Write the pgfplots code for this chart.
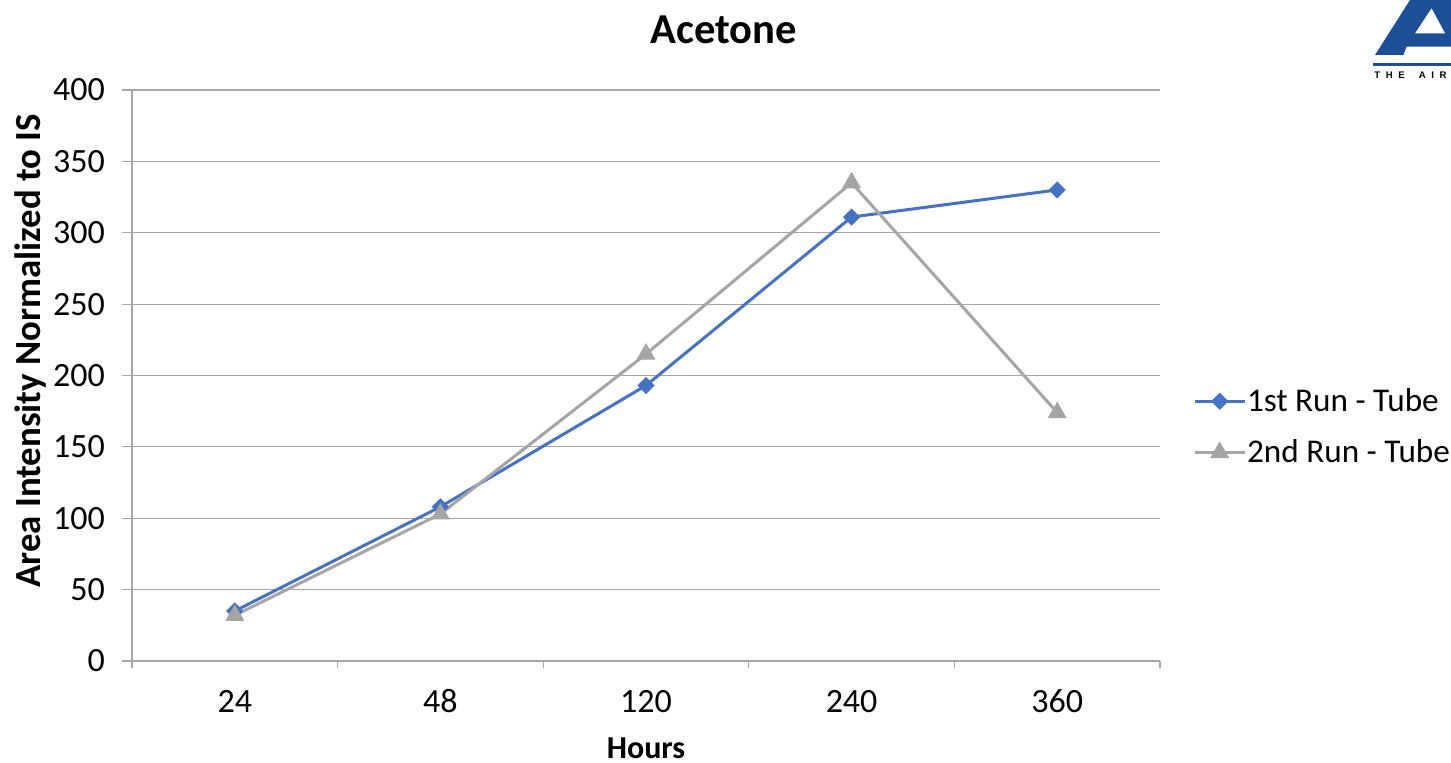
\documentclass[border=0pt]{standalone}
\usepackage{pgfplots}
\pgfplotsset{compat=1.18}
\usepackage{fontspec}
\setmainfont{Carlito}
\newfontfamily\logofont{Liberation Sans}
\definecolor{runblue}{HTML}{4472C4}
\definecolor{rungray}{HTML}{A5A5A5}
\definecolor{gridgray}{HTML}{A6A6A6}
\definecolor{logoblue}{HTML}{1D4F97}
\begin{document}
\begin{tikzpicture}[x=1pt,y=1pt]
\useasboundingbox (0,0) rectangle (725.5,381.5);
\begin{axis}[
  at={(66pt,51pt)}, anchor=south west,
  scale only axis, width=514pt, height=285.5pt,
  xmin=-0.5, xmax=4.5, ymin=0, ymax=400,
  xtick={0,1,2,3,4}, xticklabels={24,48,120,240,360},
  minor xtick={-0.5,0.5,1.5,2.5,3.5,4.5},
  ytick={0,50,...,400},
  ymajorgrids, grid style={gridgray, line width=0.6pt},
  axis x line*=bottom, axis y line*=left,
  axis line style={gridgray, line width=0.6pt},
  tick align=outside,
  major tick length=5pt, minor tick length=3.5pt,
  major x tick style={draw=none},
  minor x tick style={gridgray, line width=0.6pt},
  major y tick style={gridgray, line width=0.6pt},
  /pgf/number format/assume math mode=true,
  ticklabel style={font=\fontsize{17}{20}\selectfont},
  yticklabel style={xshift=-5pt},
  xticklabel style={text height=10.7pt, text depth=0pt, yshift=-6.5pt},
  legend style={at={(1.026,0.41)}, anchor=west, draw=none, fill=none,
    font=\fontsize{16.6}{19}\selectfont, row sep=12.6pt,
    nodes={inner xsep=0.5pt, inner ysep=0pt}},
  legend cell align=left,
  legend image code/.code={\draw[mark repeat=2,mark phase=2] plot coordinates {(0pt,0pt)(12.5pt,0pt)(25pt,0pt)};},
]
\addplot[runblue, line width=1.5pt, mark=diamond*, mark size=3.25pt,
  mark options={xscale=1.333, solid, fill=runblue}]
  coordinates {(0,35) (1,108) (2,193) (3,311) (4,330)};
\addlegendentry{1st Run - Tube}
\addplot[rungray, line width=1.5pt, mark=triangle*, mark size=4pt,
  mark options={solid, fill=rungray}]
  coordinates {(0,32) (1,103) (2,215) (3,335) (4,174)};
\addlegendentry{2nd Run - Tube}
\end{axis}
\node[font=\bfseries\fontsize{21.3}{25}\selectfont] at (362,366.5) {Acetone};
\node[font=\bfseries\fontsize{16}{19}\selectfont] at (323,7.5) {Hours};
\node[font=\bfseries\fontsize{18.4}{22}\selectfont, rotate=90] at (15,206) {Area Intensity Normalized to IS};
% logo
\fill[logoblue] (687.5,354) -- (705,381.5) -- (725.5,381.5) -- (725.5,358.2) -- (703.3,358.2) -- (701.7,354) -- cycle;
\fill[white] (707.5,364.8) -- (715.8,377.3) -- (722.5,364.8) -- cycle;
\draw[logoblue, line width=1.2pt] (686.7,349.25) -- (725.5,349.25);
\node[anchor=west, inner sep=0pt, font=\logofont\bfseries\fontsize{4.8}{5}\selectfont] at (687,344) {T\hspace{2.8pt}H\hspace{2.8pt}E\hspace{7pt}A\hspace{2.8pt}I\hspace{2.8pt}R};
\end{tikzpicture}
\end{document}
